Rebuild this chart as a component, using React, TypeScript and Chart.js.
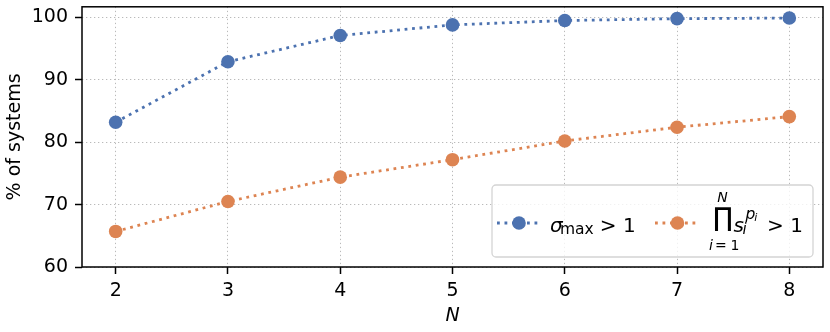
import React, { useEffect, useRef } from "react";
import { Chart, registerables } from "chart.js";

Chart.register(...registerables);

const nValues = [2, 3, 4, 5, 6, 7, 8];
const sigmaMaxPct = [83.2, 92.9, 97.1, 98.8, 99.5, 99.8, 99.9];
const productPct = [65.7, 70.5, 74.4, 77.2, 80.2, 82.4, 84.1];
const xTicks = [2, 3, 4, 5, 6, 7, 8];
const yTicks = [60, 70, 80, 90, 100];
const xTitle = "N";
const yTitle = "% of systems";

const BLUE = "#4C72B0";
const ORANGE = "#DD8452";
const FONT = "'DejaVu Sans', sans-serif";
const LINE_DASH = [2.8, 4.7];

function drawSample(ctx: CanvasRenderingContext2D, x0: number, x1: number, y: number, color: string) {
  ctx.save();
  ctx.strokeStyle = color;
  ctx.lineWidth = 2.8;
  ctx.setLineDash(LINE_DASH);
  ctx.beginPath();
  ctx.moveTo(x0, y);
  ctx.lineTo(x1, y);
  ctx.stroke();
  ctx.setLineDash([]);
  ctx.fillStyle = color;
  ctx.beginPath();
  ctx.arc((x0 + x1) / 2, y, 6.8, 0, Math.PI * 2);
  ctx.fill();
  ctx.restore();
}

function drawGlyph(ctx: CanvasRenderingContext2D, text: string, font: string, glyphX: number, base: number) {
  ctx.font = font;
  const m = ctx.measureText(text);
  ctx.fillText(text, glyphX + m.actualBoundingBoxLeft, base);
}

const framePlugin = {
  id: "frameAndLegend",
  afterDatasetsDraw(chart: any) {
    const ctx: CanvasRenderingContext2D = chart.ctx;
    const ca = chart.chartArea;
    ctx.save();
    // spines
    ctx.strokeStyle = "#000";
    ctx.lineWidth = 1.5;
    ctx.strokeRect(ca.left, ca.top, ca.right - ca.left, ca.bottom - ca.top);

    // legend box
    const bw = 321, bh = 72;
    const bx = ca.right - 10 - bw;
    const by = ca.bottom - 10 - bh;
    const r = 4;
    ctx.beginPath();
    ctx.moveTo(bx + r, by);
    ctx.lineTo(bx + bw - r, by);
    ctx.arcTo(bx + bw, by, bx + bw, by + r, r);
    ctx.lineTo(bx + bw, by + bh - r);
    ctx.arcTo(bx + bw, by + bh, bx + bw - r, by + bh, r);
    ctx.lineTo(bx + r, by + bh);
    ctx.arcTo(bx, by + bh, bx, by + bh - r, r);
    ctx.lineTo(bx, by + r);
    ctx.arcTo(bx, by, bx + r, by, r);
    ctx.closePath();
    ctx.fillStyle = "rgba(255,255,255,0.8)";
    ctx.fill();
    ctx.strokeStyle = "#d4d4d4";
    ctx.lineWidth = 1.3;
    ctx.stroke();

    const cy = by + 38;
    const base = by + 46.5;
    const F20 = `20px ${FONT}`;
    const I20 = `oblique 20px ${FONT}`;
    // entry 1
    drawSample(ctx, bx + 5, bx + 49, cy, BLUE);
    ctx.fillStyle = "#000";
    ctx.textBaseline = "alphabetic";
    ctx.textAlign = "left";
    drawGlyph(ctx, "σ", I20, bx + 58, base);
    drawGlyph(ctx, "max", `15.5px ${FONT}`, bx + 69, base + 2);
    drawGlyph(ctx, ">", F20, bx + 109.7, base);
    drawGlyph(ctx, "1", F20, bx + 133, base);

    // entry 2
    drawSample(ctx, bx + 163, bx + 208, cy, ORANGE);
    ctx.fillStyle = "#000";
    // big product
    ctx.font = `100px ${FONT}`;
    const m = ctx.measureText("∏");
    const gh = m.actualBoundingBoxAscent + m.actualBoundingBoxDescent;
    const size = (24 / gh) * 100;
    ctx.font = `${size}px ${FONT}`;
    const m2 = ctx.measureText("∏");
    const pBottom = by + 47;
    ctx.fillText("∏", bx + 222 + m2.actualBoundingBoxLeft, pBottom - m2.actualBoundingBoxDescent);
    const pCenter = bx + 222 + (m2.actualBoundingBoxLeft + m2.actualBoundingBoxRight) / 2;
    // upper limit N
    ctx.font = `oblique 14px ${FONT}`;
    ctx.textAlign = "center";
    ctx.fillText("N", pCenter, by + 17);
    ctx.textAlign = "left";
    // lower limit i = 1
    const lowBase = by + 65;
    drawGlyph(ctx, "i", `oblique 14px ${FONT}`, bx + 217, lowBase);
    drawGlyph(ctx, "=", `14px ${FONT}`, bx + 224, lowBase);
    drawGlyph(ctx, "1", `14px ${FONT}`, bx + 239.5, lowBase);
    // s_i^{p_i}
    drawGlyph(ctx, "s", I20, bx + 241.5, base);
    drawGlyph(ctx, "i", `oblique 15px ${FONT}`, bx + 250.5, base + 2.5);
    drawGlyph(ctx, "p", `oblique 15.5px ${FONT}`, bx + 252.5, base - 12.8);
    drawGlyph(ctx, "i", `oblique 11px ${FONT}`, bx + 262.3, base - 10.5);
    drawGlyph(ctx, ">", F20, bx + 277, base);
    drawGlyph(ctx, "1", F20, bx + 300.3, base);
    ctx.restore();
  },
};

export default function App() {
  const ref = useRef<HTMLCanvasElement | null>(null);
  useEffect(() => {
    if (!ref.current) return;
    const gridCfg = {
      color: "#bababa",
      lineWidth: 1,
      drawTicks: true,
      tickLength: 7,
      tickColor: "#000",
      tickWidth: 1.5,
    };
    const chart = new Chart(ref.current, {
      type: "line",
      data: {
        labels: nValues,
        datasets: [
          {
            label: "σmax > 1",
            data: nValues.map((n, i) => ({ x: n, y: sigmaMaxPct[i] })),
            borderColor: BLUE,
            backgroundColor: BLUE,
            borderWidth: 2.8,
            borderDash: LINE_DASH,
            pointRadius: 6.8,
            pointBorderWidth: 0,
            pointBackgroundColor: BLUE,
            tension: 0,
            clip: false,
          },
          {
            label: "∏ s_i^{p_i} > 1",
            data: nValues.map((n, i) => ({ x: n, y: productPct[i] })),
            borderColor: ORANGE,
            backgroundColor: ORANGE,
            borderWidth: 2.8,
            borderDash: LINE_DASH,
            pointRadius: 6.8,
            pointBorderWidth: 0,
            pointBackgroundColor: ORANGE,
            tension: 0,
            clip: false,
          },
        ],
      },
      options: {
        animation: false,
        responsive: true,
        maintainAspectRatio: false,
        layout: { padding: { top: 5, right: 7, left: 0, bottom: 0 } },
        plugins: { legend: { display: false }, tooltip: { enabled: false } },
        scales: {
          x: {
            type: "linear",
            min: 1.7,
            max: 8.3,
            afterBuildTicks: (s: any) => {
              s.ticks = xTicks.map((v) => ({ value: v }));
            },
            afterFit: (s: any) => {
              s.height = 65;
              s.paddingLeft = 0;
              s.paddingRight = 0;
            },
            grid: gridCfg,
            border: { display: false, dash: [1.3, 2.7] },
            ticks: {
              color: "#000",
              font: { family: FONT, size: 19 },
              padding: 6,
              maxRotation: 0,
              callback: (v: any) => String(v),
            },
            title: {
              display: true,
              text: xTitle,
              color: "#000",
              font: { family: FONT, size: 19, style: "italic" },
              padding: { top: 0, bottom: 5 },
            },
          },
          y: {
            type: "linear",
            min: 60,
            max: 101.7,
            afterBuildTicks: (s: any) => {
              s.ticks = yTicks.map((v) => ({ value: v }));
            },
            afterFit: (s: any) => {
              s.width = 82;
              s.paddingTop = 0;
              s.paddingBottom = 0;
            },
            grid: gridCfg,
            border: { display: false, dash: [1.3, 2.7] },
            ticks: {
              color: "#000",
              font: { family: FONT, size: 19 },
              padding: 7,
              callback: (v: any) => String(v),
            },
            title: {
              display: true,
              text: yTitle,
              color: "#000",
              font: { family: FONT, size: 19 },
              padding: { top: 4, bottom: 0 },
            },
          },
        },
      },
      plugins: [framePlugin],
    });
    return () => chart.destroy();
  }, []);
  return (
    <div style={{ position: "absolute", left: 0, top: 0, width: 830, height: 332, background: "#fff" }}>
      <canvas ref={ref} />
    </div>
  );
}
